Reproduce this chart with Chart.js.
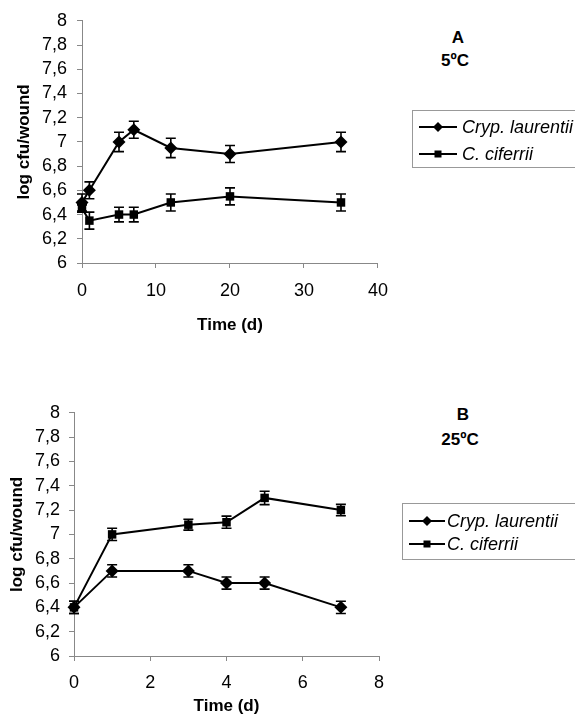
<!DOCTYPE html>
<html>
<head>
<meta charset="utf-8">
<script src="https://cdn.jsdelivr.net/npm/chart.js@4"></script>
<style>
html, body { margin: 0; padding: 0; background: #fff; width: 575px; height: 726px; overflow: hidden; }
body { position: relative; font-family: "Liberation Sans", Arial, sans-serif; color: #000; }
canvas { position: absolute; left: 0; }
.ttl { position: absolute; width: 80px; text-align: center; font-weight: bold; font-size: 17px; line-height: 20px; }
.lgbox { position: absolute; border: 1px solid #999; width: 200px; box-sizing: border-box; }
.lgtxt { position: absolute; font-style: italic; font-size: 18px; line-height: 22px; white-space: nowrap; }
svg { position: absolute; overflow: visible; }
</style>
</head>
<body>
<canvas id="chartA" width="400" height="340" style="top:0px"></canvas>
<canvas id="chartB" width="400" height="333" style="top:393px"></canvas>

<div class="ttl" style="left:418px;top:28px">A</div>
<div class="ttl" style="left:415px;top:51px">5ºC</div>
<div class="ttl" style="left:423px;top:405px">B</div>
<div class="ttl" style="left:420px;top:430px">25ºC</div>

<div class="lgbox" style="left:412px;top:110px;height:58px"></div>
<svg style="left:0;top:0" width="575" height="200">
  <line x1="419" y1="127" x2="457" y2="127" stroke="#000" stroke-width="2"/>
  <path d="M438 122 L443 127 L438 132 L433 127 Z" fill="#000"/>
  <line x1="419" y1="154" x2="457" y2="154" stroke="#000" stroke-width="2"/>
  <rect x="434.5" y="150.5" width="7" height="7" fill="#000"/>
</svg>
<div class="lgtxt" style="left:462px;top:116px">Cryp. laurentii</div>
<div class="lgtxt" style="left:462px;top:143px">C. ciferrii</div>

<div class="lgbox" style="left:402px;top:503px;height:57px"></div>
<svg style="left:0;top:0" width="575" height="600">
  <line x1="409" y1="521" x2="445" y2="521" stroke="#000" stroke-width="2"/>
  <path d="M427 516 L432 521 L427 526 L422 521 Z" fill="#000"/>
  <line x1="409" y1="544" x2="445" y2="544" stroke="#000" stroke-width="2"/>
  <rect x="423.5" y="540.5" width="7" height="7" fill="#000"/>
</svg>
<div class="lgtxt" style="left:447px;top:510px">Cryp. laurentii</div>
<div class="lgtxt" style="left:447px;top:533px">C. ciferrii</div>

<script>
// panel A - 5ºC
const daysA = [0, 1, 5, 7, 12, 20, 35];
const laurentiiA = [6.5, 6.6, 7.0, 7.1, 6.95, 6.9, 7.0];
const laurentiiErrA = [0.07, 0.07, 0.08, 0.07, 0.08, 0.07, 0.08];
const ciferriiA = [6.45, 6.35, 6.4, 6.4, 6.5, 6.55, 6.5];
const ciferriiErrA = [0.03, 0.07, 0.06, 0.06, 0.07, 0.07, 0.07];
const xTicksA = [0, 10, 20, 30, 40];

// panel B - 25ºC
const daysB = [0, 1, 3, 4, 5, 7];
const laurentiiB = [6.4, 6.7, 6.7, 6.6, 6.6, 6.4];
const laurentiiErrB = [0.05, 0.05, 0.05, 0.05, 0.05, 0.05];
const ciferriiB = [6.4, 7.0, 7.08, 7.1, 7.3, 7.2];
const ciferriiErrB = [0.05, 0.05, 0.045, 0.05, 0.055, 0.047];
const xTicksB = [0, 2, 4, 6, 8];

const yTicks = [6, 6.2, 6.4, 6.6, 6.8, 7, 7.2, 7.4, 7.6, 7.8, 8];

const errorBars = {
    id: 'errorBars',
    afterDatasetsDraw(chart) {
        const ctx = chart.ctx, xs = chart.scales.x, ys = chart.scales.y;
        ctx.save();
        ctx.strokeStyle = '#000';
        ctx.lineWidth = 1.6;
        chart.data.datasets.forEach(ds => {
            ds.data.forEach((p, i) => {
                const e = ds.errors[i];
                const px = xs.getPixelForValue(p.x);
                const t = ys.getPixelForValue(p.y + e);
                const b = ys.getPixelForValue(p.y - e);
                ctx.beginPath();
                ctx.moveTo(px, t); ctx.lineTo(px, b);
                ctx.moveTo(px - 5, t); ctx.lineTo(px + 5, t);
                ctx.moveTo(px - 5, b); ctx.lineTo(px + 5, b);
                ctx.stroke();
            });
        });
        ctx.restore();
    }
};

function fmtY(v) {
    const r = Math.round(v * 10) / 10;
    return Number.isInteger(r) ? String(r) : r.toFixed(1).replace('.', ',');
}

function series(xs, ys) {
    return xs.map((x, i) => ({ x: x, y: ys[i] }));
}

function makeChart(id, o) {
    const font = { family: '"Liberation Sans", Arial, sans-serif', size: 18 };
    const titleFont = { family: '"Liberation Sans", Arial, sans-serif', size: 17, weight: 'bold' };
    const line = { showLine: true, borderColor: '#000', backgroundColor: '#000', borderWidth: 2, tension: 0, clip: false, pointBorderWidth: 0 };
    return new Chart(document.getElementById(id), {
        type: 'scatter',
        data: {
            datasets: [
                Object.assign({ label: 'Cryp. laurentii', data: series(o.days, o.laur), errors: o.laurErr, pointStyle: 'rectRot', pointRadius: 6.5 }, line),
                Object.assign({ label: 'C. ciferrii', data: series(o.days, o.cif), errors: o.cifErr, pointStyle: 'rect', pointRadius: 6 }, line)
            ]
        },
        options: {
            responsive: false,
            animation: false,
            events: [],
            layout: { padding: { top: 16, right: o.padRight, bottom: 0, left: 0 } },
            plugins: { legend: { display: false }, tooltip: { enabled: false } },
            scales: {
                x: {
                    type: 'linear', min: o.xTicks[0], max: o.xTicks[o.xTicks.length - 1],
                    afterBuildTicks: s => { s.ticks = o.xTicks.map(v => ({ value: v })); },
                    afterFit: s => { s.height = o.xAxisH; },
                    grid: { drawOnChartArea: false, color: '#888', tickLength: 5 },
                    border: { color: '#888', width: 1 },
                    ticks: { color: '#000', font: font, padding: o.xTickPad, maxRotation: 0, autoSkip: false },
                    title: { display: true, text: 'Time (d)', color: '#000', font: titleFont, padding: { top: 0, bottom: o.xTitlePad } }
                },
                y: {
                    type: 'linear', min: 6, max: 8,
                    afterBuildTicks: s => { s.ticks = yTicks.map(v => ({ value: v })); },
                    afterFit: s => { s.width = o.yAxisW; },
                    grid: { drawOnChartArea: false, color: '#888', tickLength: 5 },
                    border: { color: '#888', width: 1 },
                    ticks: { color: '#000', font: font, padding: o.yTickPad, autoSkip: false, callback: v => fmtY(v) },
                    title: { display: true, text: 'log cfu/wound', color: '#000', font: titleFont, padding: { top: o.yTitlePad, bottom: 0 } }
                }
            }
        },
        plugins: [errorBars]
    });
}

makeChart('chartA', {
    days: daysA, laur: laurentiiA, laurErr: laurentiiErrA, cif: ciferriiA, cifErr: ciferriiErrA,
    xTicks: xTicksA, padRight: 16, xAxisH: 77, yAxisW: 82, xTitlePad: 4.8, yTitlePad: 14, xTickPad: 12, yTickPad: 10
});
makeChart('chartB', {
    days: daysB, laur: laurentiiB, laurErr: laurentiiErrB, cif: ciferriiB, cifErr: ciferriiErrB,
    xTicks: xTicksB, padRight: 21, xAxisH: 70, yAxisW: 74, xTitlePad: 9.8, yTitlePad: 7, xTickPad: 11, yTickPad: 9
});
</script>
</body>
</html>
